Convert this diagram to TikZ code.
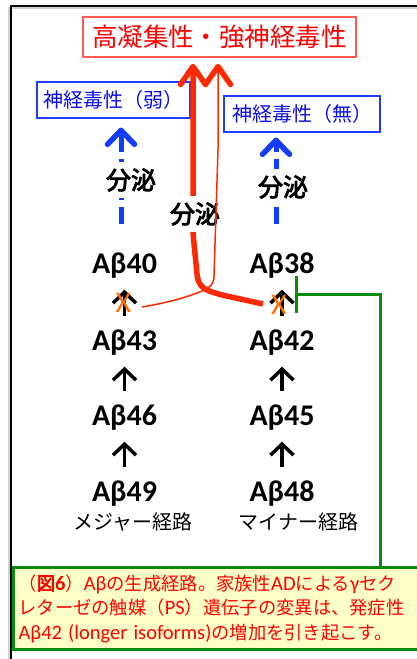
\documentclass[tikz,border=0pt]{standalone}
\usepackage{fontspec}
\usetikzlibrary{arrows.meta}
\newfontfamily\jpf{Noto Sans CJK JP}
\newfontfamily\jpbf[FakeBold=3.5]{Noto Sans CJK JP}
\newfontfamily\calf{Carlito}
\newcommand\latn[1]{{\calf\fontsize{20.5}{24.5}\selectfont #1}}
\definecolor{titlered}{RGB}{255,0,0}
\definecolor{titleborder}{RGB}{255,90,80}
\definecolor{btext}{RGB}{10,10,235}
\definecolor{bborder}{RGB}{30,60,255}
\definecolor{barrow}{RGB}{20,60,255}
\definecolor{rarrow}{RGB}{255,40,0}
\definecolor{xorange}{RGB}{255,110,0}
\definecolor{grn}{RGB}{10,140,10}
\definecolor{capyellow}{RGB}{255,255,200}
\begin{document}
\begin{tikzpicture}[x=1pt,y=-1pt,
  ab/.style={font=\calf\bfseries\fontsize{30}{30}\selectfont, inner sep=0pt, text height=19pt, text depth=0pt},
  xmark/.style={font=\calf\fontsize{30}{30}\selectfont, text=xorange, inner sep=0pt, text height=19pt, text depth=0pt},
  bunpi/.style={font=\jpbf\fontsize{25}{25}\selectfont, fill=white, inner xsep=1pt, inner ysep=6pt},
  bbox/.style={draw=bborder, line width=1.2pt, text=btext, font=\jpf\fontsize{20}{20}\selectfont, minimum height=36pt, inner sep=0pt},
  blkarr/.style={line width=3.5pt, -{Straight Barb[length=11pt 0,width=23pt 0,line width=3.5pt 0]}, shorten <=15.5pt, shorten >=16pt},
  bluearr/.style={draw=barrow, line width=5pt, dash pattern=on 17pt off 7pt, -{Straight Barb[length=14pt 0,width=27pt 0,line width=5.5pt 0,round]}},
  redthick/.style={draw=rarrow, line width=5.5pt, line join=round, -{Straight Barb[length=18pt 0,width=25pt 0,line width=5.5pt 0,round]}, shorten >=6pt},
  redthin/.style={draw=rarrow, line width=1.5pt, line join=round, -{Straight Barb[length=18pt 0,width=25pt 0,line width=5.5pt 0,round]}, shorten >=6pt},
  grnline/.style={draw=grn, line width=3pt, -{Bar[width=37pt 0,line width=3pt 0]}},
  capbox/.style={draw=grn, line width=3pt, fill=capyellow, text=titlered, inner xsep=5pt, inner ysep=0pt, text width=403pt, minimum height=82pt, align=left, font=\jpf\fontsize{18.3}{24.5}\selectfont},
  pathlbl/.style={font=\jpf\fontsize{20}{20}\selectfont, inner sep=0pt}
]
\useasboundingbox (0,0) rectangle (417,659);
\clip (0,0) rectangle (417,659);
% frame
\draw[gray!35, line width=2pt] (9,700) -- (9,8) -- (430,8);
\draw[black, line width=1.5pt] (11,700) -- (11,6) -- (430,6);
% title and boxes
\node[draw=titleborder, line width=1.5pt, text=titlered, font=\jpf\fontsize{25.5}{25.5}\selectfont, minimum width=273pt, minimum height=40pt, inner sep=0pt] (title) at (219.5,37) {高凝集性・強神経毒性};
\node[bbox, minimum width=153pt] (wk) at (113.5,100) {神経毒性（弱）};
\node[bbox, minimum width=156pt] (wn) at (302,114) {神経毒性（無）};
% blue dashed arrows
\coordinate (lb0) at (121,224);
\coordinate (rb0) at (276,224);
\draw[bluearr, shorten >=9pt] (lb0) -- (lb0 |- wk.south);
\draw[bluearr, shorten >=5pt] (rb0) -- (rb0 |- wn.south);
\node[bunpi] (s1) at (131,180) {分泌};
\node[bunpi] (s2) at (283,187) {分泌};
% red arrows
\coordinate (rs1) at (263,304);
\coordinate (ra) at (193,233);
\coordinate (rs2) at (142,307);
\coordinate (rb) at (218,150);
\draw[redthick] (rs1) -- (222,295) .. controls (208,291) and (198,289) .. (197,274) -- (ra) -- (ra |- title.south);
\node[bunpi] (s3) at (195,214) {分泌};
\draw[redthin] (rs2) .. controls (172,302) and (190,296) .. (202,291) .. controls (210,288) and (214,284) .. (214,276) -- (rb) -- (rb |- title.south);
% Abeta nodes
\node[ab] (b40) at (124.5,264) {Aβ40};
\node[ab] (b43) at (124.5,341) {Aβ43};
\node[ab] (b46) at (124.5,416) {Aβ46};
\node[ab] (b49) at (124.5,492) {Aβ49};
\node[ab] (b38) at (282,264) {Aβ38};
\node[ab] (b42) at (282,341) {Aβ42};
\node[ab] (b45) at (282,416) {Aβ45};
\node[ab] (b48) at (282,492) {Aβ48};
\draw[blkarr] (b43.north) -- (b40.south);
\draw[blkarr] (b46.north) -- (b43.south);
\draw[blkarr] (b49.north) -- (b46.south);
\draw[blkarr] (b42.north) -- (b38.south);
\draw[blkarr] (b45.north) -- (b42.south);
\draw[blkarr] (b48.north) -- (b45.south);
\node[xmark] (x1) at (123.5,303) {X};
\node[xmark] (x2) at (279,305) {X};
\node[pathlbl] (m1) at (132.5,522) {メジャー経路};
\node[pathlbl] (m2) at (298.5,522) {マイナー経路};
% caption
\node[capbox, anchor=north west] (cap) at (12,566) {（{\jpbf 図}{\calf\bfseries\fontsize{20.5}{24.5}\selectfont 6}）\latn{Aβ}の生成経路。家族性\latn{AD}による\latn{γ}セク\\%
レターゼの触媒（\latn{PS}）遺伝子の変異は、発症性\\%
\latn{Aβ42 (longer isoforms)}の増加を引き起こす。};
% green inhibition
\coordinate (gc) at (380,294);
\coordinate (gb) at (295,294);
\draw[grnline] (cap.north -| gc) -- (gc) -- (gb);
\end{tikzpicture}
\end{document}
